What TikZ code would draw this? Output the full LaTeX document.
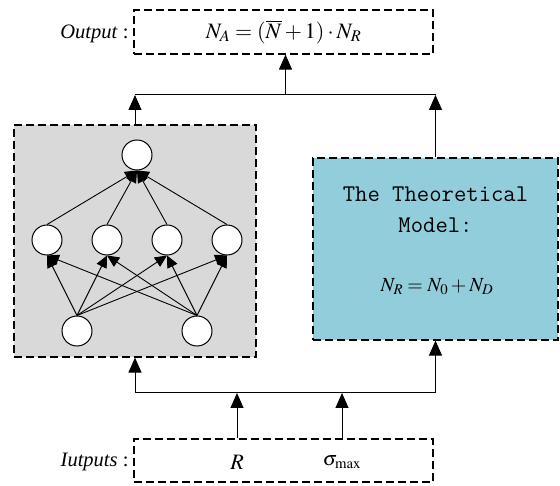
\documentclass[tikz,border=0pt]{standalone}
\usepackage{mathptmx}
\usepackage{fontspec}
\setmainfont{Liberation Serif}
\usetikzlibrary{arrows.meta}
\definecolor{nngray}{RGB}{217,217,217}
\definecolor{tmblue}{RGB}{146,205,220}

\begin{document}
\begin{tikzpicture}[x=1pt,y=-1pt,
		dbox/.style={draw,dashed,dash pattern=on 8pt off 4pt,line width=1.2pt,inner sep=0pt},
		neuron/.style={draw,circle,fill=white,line width=1pt,minimum size=30pt,inner sep=0pt},
		arr/.style={-{Triangle[length=15pt,width=13pt]},line width=1pt},
		narr/.style={-{Triangle[length=12pt,width=11pt]},line width=0.9pt}]
	\useasboundingbox (0,0) rectangle (560,486);
	% boxes
	\node[dbox,minimum width=299pt,minimum height=44pt,font=\fontsize{22}{26}\selectfont] (out) at (283.5,32) {$N_A=(\overline{N}+1)\cdot N_R$};
	\node[anchor=east,font=\fontsize{20.5}{24}\selectfont] (outl) at (132,34) {\textit{Output} :};
	\node[dbox,fill=nngray,minimum width=242pt,minimum height=232pt] (nn) at (135,241) {};
	\node[dbox,fill=tmblue,minimum width=245pt,minimum height=182pt] (tm) at (435.5,249) {};
	\node[align=center,font=\fontsize{24}{31}\selectfont\ttfamily] (tmt) at (435.5,210) {The Theoretical\\Model:};
	\node[font=\fontsize{20}{24}\selectfont] (tme) at (437,287) {$N_R=N_0+N_D$};
	\node[dbox,minimum width=299pt,minimum height=43pt] (inp) at (283.5,460.5) {};
	\node[anchor=east,font=\fontsize{20.5}{24}\selectfont] (inl) at (132,462) {\textit{Iutputs} :};
	\node[font=\fontsize{22}{26}\selectfont] (R) at (237,462) {$R$};
	\node[font=\fontsize{20}{24}\selectfont] (s) at (342,462) {$\sigma_{\max}$};

	% network
	\node[neuron] (o) at (137,155) {};
	\node[neuron] (h1) at (47,240) {};
	\node[neuron] (h2) at (107,240) {};
	\node[neuron] (h3) at (167,240) {};
	\node[neuron] (h4) at (227,240) {};
	\node[neuron] (i1) at (77,331) {};
	\node[neuron] (i2) at (197,331) {};
	\draw[narr] (i1.north) -- (h1.south);
	\draw[narr] (i1.north) -- (h2.south);
	\draw[narr] (i1.north) -- (h3.south);
	\draw[narr] (i1.north) -- (h4.south);
	\draw[narr] (i2.north) -- (h1.south);
	\draw[narr] (i2.north) -- (h2.south);
	\draw[narr] (i2.north) -- (h3.south);
	\draw[narr] (i2.north) -- (h4.south);
	\draw[narr] (h1.north) -- (o.south);
	\draw[narr] (h2.north) -- (o.south);
	\draw[narr] (h3.north) -- (o.south);
	\draw[narr] (h4.north) -- (o.south);

	% connectors
	\coordinate (jt) at (285.5,95);
	\coordinate (jb) at (285.5,393);
	\draw[line width=1pt] (nn.north |- jt) -- (tm.north |- jt);
	\draw[arr] (nn.north) -- (nn.north |- jt);
	\draw[arr] (tm.north) -- (tm.north |- jt);
	\draw[arr] (jt) -- (jt |- out.south);
	\draw[line width=1pt] (nn.south |- jb) -- (tm.south |- jb);
	\draw[arr] (nn.south |- jb) -- (nn.south);
	\draw[arr] (tm.south |- jb) -- (tm.south);
	\draw[arr] (R |- inp.north) -- (R |- jb);
	\draw[arr] (s |- inp.north) -- (s |- jb);
\end{tikzpicture}
\end{document}
